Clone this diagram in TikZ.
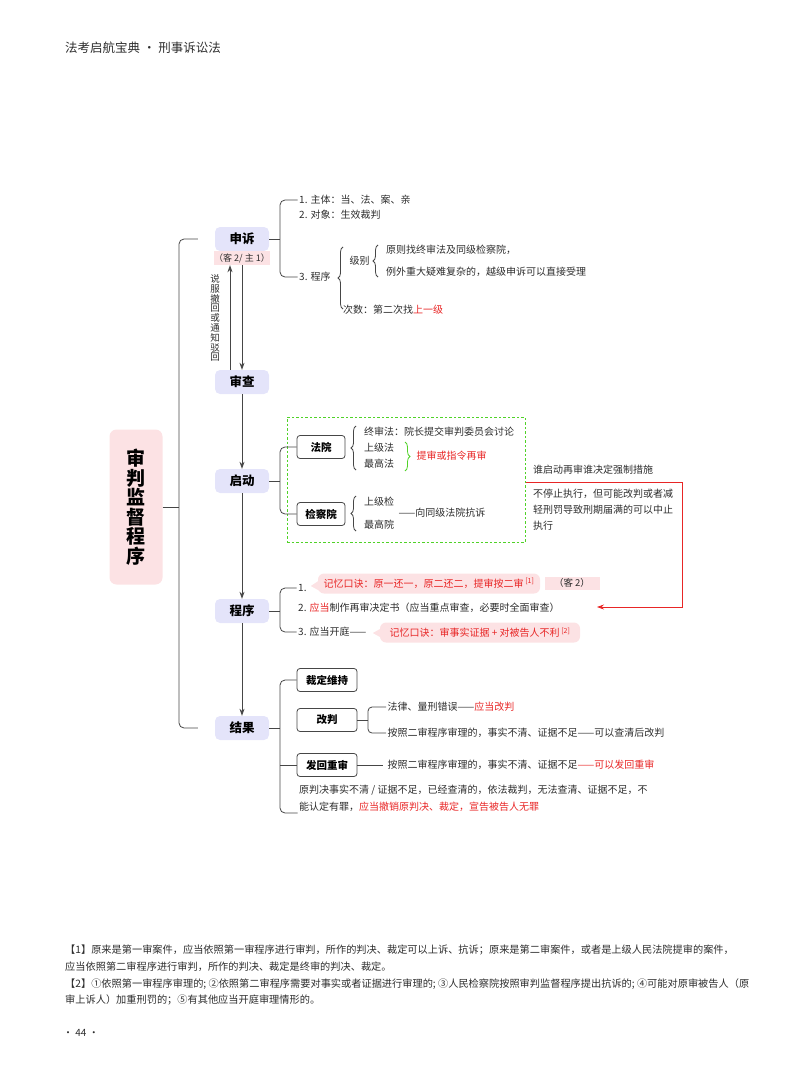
\documentclass[tikz,border=0pt]{standalone}
\usepackage{xcolor}
\usepackage{fontspec}
\setmainfont{Noto Sans CJK SC}
\usepackage{tikz}
\usetikzlibrary{arrows.meta,positioning,calc,decorations.pathreplacing}
\definecolor{ink}{RGB}{45,45,45}
\definecolor{frame}{RGB}{70,70,70}
\definecolor{lavender}{RGB}{228,228,250}
\definecolor{blush}{RGB}{252,226,228}
\definecolor{alert}{RGB}{232,38,38}
\definecolor{leaf}{RGB}{80,210,40}

\tikzset{
  topic/.style={fill=lavender, rounded corners=5pt, minimum width=54pt, minimum height=24pt,
    inner sep=0pt, font=\bfseries\fontsize{12.5}{14}\selectfont},
  tagbox/.style={draw=frame, line width=0.8pt, rounded corners=3pt, minimum width=60pt,
    minimum height=23pt, inner sep=0pt, font=\bfseries\fontsize{10.5}{12}\selectfont},
  item/.style={anchor=west, inner sep=1.5pt, text=ink, font=\fontsize{10}{12}\selectfont},
  memo/.style={fill=blush, rounded corners=6pt, text=alert, inner sep=0pt, minimum height=20pt,
    font=\fontsize{10}{12}\selectfont},
  link/.style={draw=frame, line width=0.8pt},
  arr/.style={link, -{Stealth[length=7pt,width=5pt]}},
  curly/.style={draw=frame, line width=0.8pt, decorate, decoration={brace, amplitude=5pt}},
}

\begin{document}
\begin{tikzpicture}[x=1pt, y=-1pt]
\useasboundingbox (0,0) rectangle (800,1086);

\node[anchor=west, inner sep=0pt, text=ink, font=\fontsize{12.5}{15}\selectfont] (header) at (65,48) {法考启航宝典 · 刑事诉讼法};

% root and main steps
\node[fill=blush, rounded corners=7pt, minimum width=53pt, minimum height=155pt, align=center,
      font=\bfseries\fontsize{19}{19.5}\selectfont] (root) at (136,507) {审\\判\\监\\督\\程\\序};

\node[topic] (shensu) at (242,239) {申诉};
\node[fill=blush, inner sep=0pt, minimum width=56pt, minimum height=14pt, text=ink,
      font=\fontsize{9}{10}\selectfont] (ke1) at (242,258) {（客 2/ 主 1）};
\node[topic] (shencha) at (242,382) {审查};
\node[topic] (qidong) at (242,481) {启动};
\node[topic] (chengxu) at (242,611) {程序};
\node[topic] (jieguo) at (242,728) {结果};

\draw[arr] ([xshift=-12pt]shencha.north) -- ([xshift=-12pt]ke1.south);
\draw[arr] (ke1.south) -- (shencha.north);
\node[inner sep=0pt, align=center, text=ink, font=\fontsize{9.5}{9.8}\selectfont] (quash) at (215,318)
  {说\\服\\撤\\回\\或\\通\\知\\驳\\回};
\draw[arr] (shencha) -- (qidong);
\draw[arr] (qidong) -- (chengxu);
\draw[arr] (chengxu) -- (jieguo);

\coordinate (spine) at (179,507);
\draw[link] (root.east) -- (spine);
\draw[link, rounded corners=5pt] ([xshift=-17pt]shensu.west) -| (spine) |- ([xshift=-17pt]jieguo.west);

% shensu
\node[item] (s1) at (297.5,200) {1. 主体：当、法、案、亲};
\node[item] (s2) at (297.5,215) {2. 对象：生效裁判};
\node[item] (s3) at (297.5,277) {3. 程序};
\coordinate (sfork) at (280,239);
\draw[link] (shensu.east) -- (sfork);
\draw[link, rounded corners=5pt] (s1.west) -| (sfork) |- (s3.west);
\draw[curly] (343,309) -- (343,247);
\node[item] (s3a) at (348,261) {级别};
\draw[curly] (378,277) -- (378,245);
\node[item] (s3a1) at (384.5,250) {原则找终审法及同级检察院，};
\node[item] (s3a2) at (384.5,272) {例外重大疑难复杂的，越级申诉可以直接受理};
\node[item] (s3b) at (341.5,310) {次数：第二次找\textcolor{alert}{上一级}};

% qidong
\node[draw=leaf, dash pattern=on 2.5pt off 2pt, line width=1pt, minimum width=238pt, minimum height=125pt, inner sep=0pt] (zone) at (406,479.5) {};
\node[tagbox, minimum width=48pt] (fayuan) at (321,447) {法院};
\node[tagbox, minimum width=48pt] (jcy) at (321,514) {检察院};
\coordinate (qfork) at (280,481);
\draw[link] (qidong.east) -- (qfork);
\draw[link, rounded corners=5pt] (fayuan.west) -| (qfork) |- (jcy.west);
\draw[curly] (356,470) -- (356,426);
\node[item] (f1) at (362.5,432) {终审法：院长提交审判委员会讨论};
\node[item] (f2) at (362.5,448) {上级法};
\node[item] (f3) at (362.5,464) {最高法};
\draw[curly, draw=leaf] (405,442) -- (405,471);
\node[item, text=alert] (f4) at (415,456) {提审或指令再审};
\draw[curly] (356,531) -- (356,496);
\node[item] (j1) at (362.5,502) {上级检};
\node[item] (j2) at (362.5,525) {最高院};
\node[item] (j3) at (397,513) {——向同级法院抗诉};

\node[item] (who) at (531.5,470) {谁启动再审谁决定强制措施};
\node[item, anchor=north west, align=left, font=\fontsize{10}{16}\selectfont] (halt) at (531.5,487)
  {不停止执行，但可能改判或者减\\轻刑罚导致刑期届满的可以中止\\执行};
\coordinate (turn) at (682,482);
\coordinate (back) at (597,607);
\draw[alert, line width=0.8pt, -{Stealth[length=7pt,width=5pt]}] (zone.east |- turn) -- (turn) |- (back);

% chengxu
\node[item] (c1) at (296.5,588) {1.};
\node[item] (c2) at (296.5,608) {2. \textcolor{alert}{应当}制作再审决定书（应当重点审查，必要时全面审查）};
\node[item] (c3) at (296.5,632) {3. 应当开庭——};
\coordinate (cfork) at (280,611);
\draw[link] (chengxu.east) -- (cfork);
\draw[link, rounded corners=5pt] (c1.west) -| (cfork) |- (c3.west);
\node[memo, minimum width=222pt] (rhyme1) at (429,583.5) {记忆口诀：原一还一，原二还二，提审按二审\,\textsuperscript{[1]}};
\fill[blush] ([xshift=2pt,yshift=3.5pt]rhyme1.west) -- ([xshift=-7pt,yshift=-2.5pt]rhyme1.west) -- ([xshift=2pt,yshift=-7.5pt]rhyme1.west) -- cycle;
\node[fill=blush, inner sep=0pt, minimum width=55pt, minimum height=13pt, text=ink,
      font=\fontsize{9.5}{11}\selectfont] (ke2) at (572,583) {（客 2）};
\node[memo, minimum width=200pt] (rhyme2) at (480,632.5) {记忆口诀：审事实证据 + 对被告人不利\,\textsuperscript{[2]}};
\fill[blush] ([xshift=2pt,yshift=4.5pt]rhyme2.west) -- ([xshift=-7pt,yshift=-0.5pt]rhyme2.west) -- ([xshift=2pt,yshift=-5.5pt]rhyme2.west) -- cycle;

% jieguo
\node[tagbox] (weichi) at (327,680) {裁定维持};
\node[tagbox] (gaipan) at (327,720) {改判};
\node[tagbox] (fahui) at (327,765) {发回重审};
\node[item, anchor=south west, align=left, font=\fontsize{10}{17}\selectfont] (wuzui) at (297.5,813)
  {原判决事实不清 / 证据不足，已经查清的，依法裁判，无法查清、证据不足，不\\能认定有罪，\textcolor{alert}{应当撤销原判决、裁定，宣告被告人无罪}};
\coordinate (jfork) at (280,728);
\draw[link] (jieguo.east) -- (jfork);
\draw[link, rounded corners=5pt] (weichi.west) -| (jfork) |- (wuzui.south west);
\draw[link] (fahui.west) -- (fahui.west -| jfork);

\node[item] (g1) at (386,707) {法律、量刑错误——\textcolor{alert}{应当改判}};
\node[item] (g2) at (386,733) {按照二审程序审理的，事实不清、证据不足——可以查清后改判};
\coordinate (gfork) at (368,720);
\draw[link] (gaipan.east) -- (gfork);
\draw[link, rounded corners=4pt] (g1.west) -| (gfork) |- (g2.west);
\node[item] (h1) at (386,765) {按照二审程序审理的，事实不清、证据不足\textcolor{alert}{——可以发回重审}};
\draw[link] (fahui.east) -- ([xshift=-3pt]h1.west);

% notes
\node[anchor=north west, inner sep=0pt, align=left, text=ink, font=\fontsize{10.2}{16.7}\selectfont] (notes) at (65,945)
  {【1】原来是第一审案件，应当依照第一审程序进行审判，所作的判决、裁定可以上诉、抗诉；原来是第二审案件，或者是上级人民法院提审的案件，\\
   应当依照第二审程序进行审判，所作的判决、裁定是终审的判决、裁定。\\
   【2】①依照第一审程序审理的; ②依照第二审程序需要对事实或者证据进行审理的; ③人民检察院按照审判监督程序提出抗诉的; ④可能对原审被告人（原\\
   审上诉人）加重刑罚的；⑤有其他应当开庭审理情形的。};
\node[anchor=west, inner sep=0pt, text=ink, font=\fontsize{10}{12}\selectfont] (folio) at (63,1033) {· 44 ·};
\end{tikzpicture}
\end{document}
